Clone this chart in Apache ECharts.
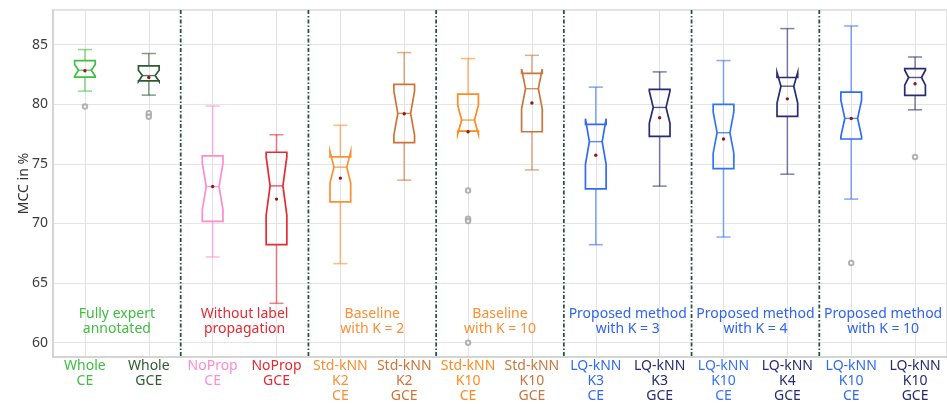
<!DOCTYPE html>
<html><head><meta charset="utf-8">
<script src="https://cdn.jsdelivr.net/npm/echarts@6/dist/echarts.min.js"></script>
<style>html,body{margin:0;padding:0;background:#fff}#c{width:947px;height:404px}</style>
</head><body><div id="c"></div>
<script>
// ---------- data ----------
const categories = ['Whole\nCE','Whole\nGCE','NoProp\nCE','NoProp\nGCE',
  'Std-kNN\nK2\nCE','Std-kNN\nK2\nGCE','Std-kNN\nK10\nCE','Std-kNN\nK10\nGCE',
  'LQ-kNN\nK3\nCE','LQ-kNN\nK3\nGCE','LQ-kNN\nK10\nCE','LQ-kNN\nK4\nGCE',
  'LQ-kNN\nK10\nCE','LQ-kNN\nK10\nGCE'];
const whiskerLow  = [81.1, 80.76, 67.19, 63.3, 66.63, 73.63, 77.75, 74.49, 68.22, 73.13, 68.86, 74.13, 72.04, 79.53];
const q1          = [82.27, 81.96, 70.17, 68.22, 71.81, 76.77, 77.75, 77.69, 72.9, 77.31, 74.6, 78.98, 77.08, 80.74];
const notchLow    = [82.35, 81.9, 71.15, 70.7, 73.4, 77.4, 77.5, 79.62, 74.95, 78.39, 75.89, 80.1, 77.3, 81.6];
const median      = [82.85, 82.4, 73.09, 73.15, 74.72, 79.23, 78.67, 81.3, 76.86, 79.73, 77.61, 81.51, 78.81, 82.24];
const notchHigh   = [83.33, 82.85, 75.05, 75.6, 76.02, 81.1, 79.92, 82.95, 78.78, 81.1, 79.36, 82.66, 80.34, 82.85];
const q3          = [83.66, 83.21, 75.66, 75.97, 75.58, 81.66, 80.84, 82.58, 78.31, 81.24, 79.98, 82.24, 81.01, 82.99];
const whiskerHigh = [84.58, 84.25, 79.84, 77.44, 78.23, 84.33, 83.83, 84.1, 81.43, 82.71, 83.66, 86.34, 86.56, 83.96];
const means       = [82.8, 82.24, 73.1, 72.04, 73.8, 79.2, 77.69, 80.1, 75.72, 78.86, 77.08, 80.45, 78.8, 81.71];
const outliers    = [[79.8],[79.25,78.95],[],[],[],[],[72.76,70.4,70.2,60.0],[],[],[],[],[],[66.69],[75.58]];
const groupLabels = ['Fully expert\nannotated','Without label\npropagation','Baseline\nwith K = 2',
  'Baseline\nwith K = 10','Proposed method\nwith K = 3','Proposed method\nwith K = 4','Proposed method\nwith K = 10'];
const yAxisName = 'MCC in %';

// ---------- styles ----------
const FONT = 'Noto Sans';
const catColors = ['#3fbf3f','#2d5c32','#ff8ccb','#e62a33','#fb8f34','#cf7336','#ff8a1f','#c9763c',
  '#2f6cf2','#262b72','#3274f2','#282c74','#2f6cf2','#262b72'];
const groupColors = ['#3fbf3f','#e62a33','#fb8f34','#fb8f34','#2f63f2','#2f63f2','#2f63f2'];

const boxData = categories.map((c,i)=>[i, whiskerLow[i], q1[i], notchLow[i], median[i], notchHigh[i], q3[i], whiskerHigh[i], means[i]]);
const outlierData = [];
outliers.forEach((arr,i)=>arr.forEach(v=>outlierData.push([i, v])));
const sepData = groupLabels.slice(1).map((g,k)=>[2*(k+1)]);
const groupData = groupLabels.map((g,k)=>[2*k]);

function renderBox(params, api){
  const i = api.value(0);
  const band = api.size([1,0])[0];
  const hw = band*0.162, nw = hw*0.62, cw = hw*0.68;
  const yv = k => api.coord([i, api.value(k)])[1];
  const x = api.coord([i, api.value(4)])[0];
  const wl=yv(1), b1=yv(2), nl=yv(3), md=yv(4), nh=yv(5), b3=yv(6), wh=yv(7), mn=yv(8);
  const col = catColors[i];
  const ws = {stroke: col, lineWidth: 1.5, opacity: 0.6};
  return {type:'group', children:[
    {type:'line', shape:{x1:x,y1:b3,x2:x,y2:wh}, style:ws},
    {type:'line', shape:{x1:x-cw,y1:wh,x2:x+cw,y2:wh}, style:ws},
    {type:'line', shape:{x1:x,y1:b1,x2:x,y2:wl}, style:ws},
    {type:'line', shape:{x1:x-cw,y1:wl,x2:x+cw,y2:wl}, style:ws},
    {type:'polygon', shape:{points:[[x-hw,b3],[x-hw,nh],[x-nw,md],[x-hw,nl],[x-hw,b1],[x+hw,b1],[x+hw,nl],[x+nw,md],[x+hw,nh],[x+hw,b3]]},
      style:{fill:'none', stroke:col, lineWidth:1.7}},
    {type:'line', shape:{x1:x-nw,y1:md,x2:x+nw,y2:md}, style:{stroke:col, lineWidth:1.4, opacity:0.8}},
    {type:'circle', shape:{cx:x, cy:mn, r:1.7}, style:{fill:'#8b1c1c'}}
  ]};
}
function renderSep(params, api){
  const cs = params.coordSys;
  const band = api.size([1,0])[0];
  const x = api.coord([api.value(0), 0])[0] - band/2;
  return {type:'line', shape:{x1:x, y1:cs.y, x2:x, y2:cs.y+cs.height},
    style:{stroke:'#2a5540', lineWidth:1.8, lineDash:[4,2,1.5,2]}};
}
function renderGroup(params, api){
  const cs = params.coordSys;
  const band = api.size([1,0])[0];
  const k = params.dataIndex;
  const x = api.coord([api.value(0), 0])[0] + band/2;
  return {type:'text', x:x, y:cs.y+cs.height-35,
    style:{text:groupLabels[k], fill:groupColors[k], fontSize:14, fontFamily:FONT,
      align:'center', verticalAlign:'middle', lineHeight:15}};
}

const chart = echarts.init(document.getElementById('c'), null, {renderer:'canvas'});
chart.setOption({
  animation:false,
  grid:{left:53, right:0, top:10, bottom:46, show:true, borderColor:'#d9d9d9', borderWidth:1.5},
  xAxis:{type:'category', data:categories, boundaryGap:true,
    axisLine:{show:true, lineStyle:{color:'#cfcfcf', width:1.5}}, axisTick:{show:false},
    axisLabel:{interval:0, fontSize:14, lineHeight:15, margin:2, fontFamily:FONT,
      color:(v,i)=>catColors[i]},
    splitLine:{show:true, alignWithLabel:true, lineStyle:{color:'#e4e4e4', width:1.2}}},
  yAxis:{type:'value', min:58.8, max:87.9, splitNumber:6, minInterval:5, maxInterval:5,
    axisLine:{show:true, lineStyle:{color:'#cfcfcf', width:1.5}}, axisTick:{show:false},
    axisLabel:{fontSize:14, color:'#3c3c3c', margin:5, fontFamily:FONT,
      formatter:v=>(Math.abs(v/5-Math.round(v/5))<1e-6 ? String(v) : '')},
    splitLine:{lineStyle:{color:'#e4e4e4', width:1.2}},
    name:yAxisName, nameLocation:'middle', nameGap:22, nameMoveOverlap:false,
    nameTextStyle:{fontSize:14, color:'#333', fontFamily:FONT}},
  series:[
    {type:'custom', renderItem:renderSep, data:sepData, encode:{x:0}, z:3, silent:true},
    {type:'custom', renderItem:renderBox, data:boxData, encode:{x:0, y:[1,2,3,4,5,6,7,8]}, z:4, silent:true},
    {type:'scatter', data:outlierData, symbol:'emptyCircle', symbolSize:4.5,
      itemStyle:{color:'#a0a0a0', borderColor:'#a0a0a0', borderWidth:1}, z:5, silent:true},
    {type:'custom', renderItem:renderGroup, data:groupData, encode:{x:0}, z:6, silent:true}
  ]
});
</script></body></html>
